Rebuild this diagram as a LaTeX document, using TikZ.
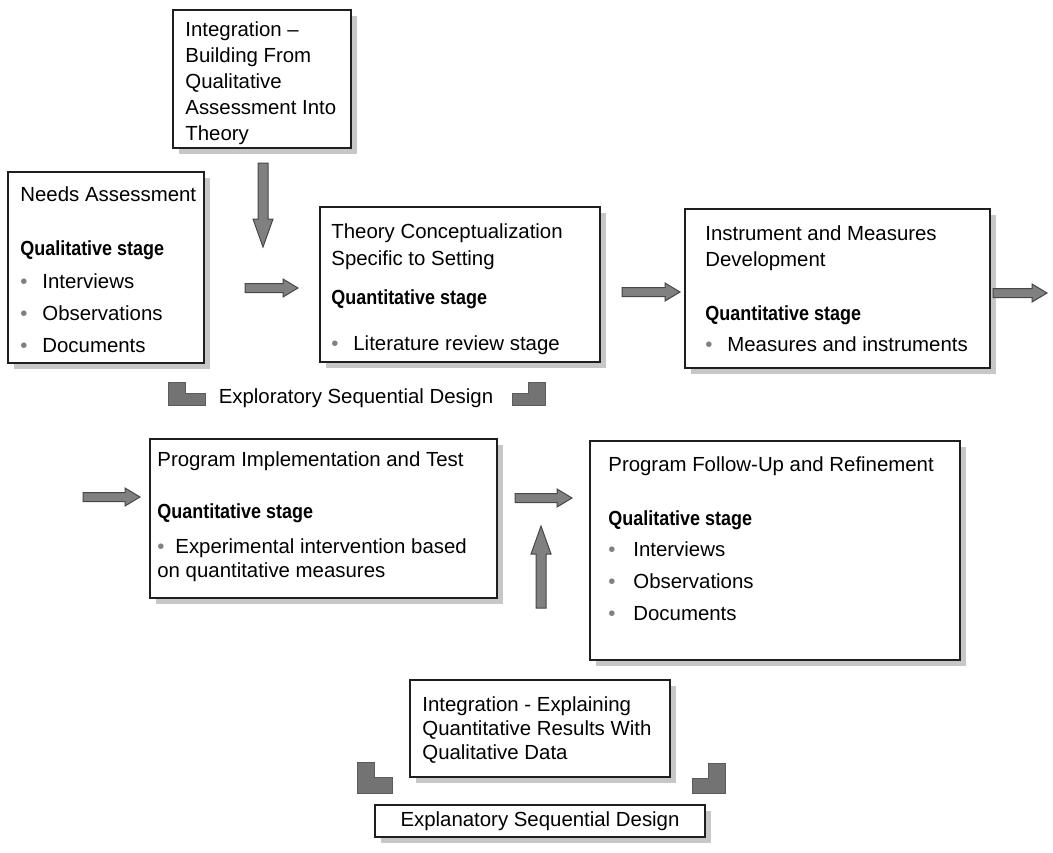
\documentclass[tikz,border=0pt]{standalone}
\usepackage{fontspec}
\setmainfont{Liberation Sans}
\newfontfamily\stagefont{Liberation Sans}[FakeStretch=0.88]
\usetikzlibrary{fit, shadows}
\definecolor{cframe}{gray}{0.12}
\definecolor{cshadow}{gray}{0.78}
\definecolor{carrow}{gray}{0.5}
\definecolor{carrowline}{gray}{0.28}
\definecolor{ccorner}{gray}{0.45}
\definecolor{cbullet}{gray}{0.5}
\newcommand\stagebullet[1][11pt]{\makebox[#1][l]{\textcolor{cbullet}{\textbullet}}}
\newcommand\stagehead[1]{{\stagefont\bfseries #1}}
\tikzset{
  every picture/.style={font=\fontsize{10.2}{13}\selectfont},
  stagebox/.style={draw=cframe, fill=white, line width=0.7pt, inner sep=0pt,
    drop shadow={shadow xshift=3pt, shadow yshift=-3pt, fill=cshadow, opacity=1}},
  stagetext/.style={anchor=north west, align=left, inner sep=0pt},
  arrowfill/.style={fill=carrow, draw=carrowline, line width=0.5pt},
  pics/rarrow/.style={code={
    \filldraw[arrowfill] (0,-4.5) -- (#1-15,-4.5) -- (#1-15,-9) -- (#1,0)
      -- (#1-15,9) -- (#1-15,4.5) -- (0,4.5) -- cycle;}},
  pics/varrow/.style 2 args={code={
    \filldraw[arrowfill] (-5,0) -- (-5,#2) -- (-10,#2) -- (0,#1)
      -- (10,#2) -- (5,#2) -- (5,0) -- cycle;}},
  pics/bracket/.style 2 args={code={
    \filldraw[fill=ccorner, draw=ccorner!80!black, line width=0.4pt]
      (0,0) -- (0,-#2) -- (17,-#2) -- (17,-#2/2) -- (#1,-#2/2) -- (#1,0) -- cycle;}},
}
\begin{document}
\begin{tikzpicture}[x=0.5pt, y=-0.5pt]
  \useasboundingbox (0,0) rectangle (1053,852);
  % exploratory part
  \node[stagebox, fit={(173,10) (351,148)}] (buildbox) {};
  \node[stagetext] (buildtext) at (185,21) {Integration –\\Building From\\Qualitative\\Assessment Into\\Theory};
  \node[stagebox, fit={(8,172) (204,363)}] (needsbox) {};
  \node[stagetext] (needstext) at (20,186) {Needs Assessment\\[14pt]
    \stagehead{Qualitative stage}\\[3.5pt]
    \stagebullet Interviews\\[3pt]
    \stagebullet Observations\\[3pt]
    \stagebullet Documents};
  \node[stagebox, fit={(320,207) (600,362)}] (theorybox) {};
  \node[stagetext] (theorytext) at (331,223) {Theory Conceptualization\\[0.5pt]
    Specific to Setting\\[6.5pt]
    \stagehead{Quantitative stage}\\[10pt]
    \stagebullet Literature review stage};
  \node[stagebox, fit={(685,209) (990,368)}] (measuresbox) {};
  \node[stagetext] (measurestext) at (705,225) {Instrument and Measures\\
    Development\\[14pt]
    \stagehead{Quantitative stage}\\[2.5pt]
    \stagebullet Measures and instruments};
  \pic at (263,163) {varrow={84}{56}};
  \pic at (245,288) {rarrow=53};
  \pic at (622,292) {rarrow=58};
  \pic at (993,293) {rarrow=54};
  \pic at (168,405) {bracket={37}{23}};
  \pic[xscale=-1] at (545,405) {bracket={33}{23}};
  \node[anchor=base] (exploratory) at (356,403) {Exploratory Sequential Design};
  % explanatory part
  \node[stagebox, fit={(150,439) (497,598)}] (programbox) {};
  \node[stagetext] (programtext) at (157,451) {Program Implementation and Test\\[13pt]
    \stagehead{Quantitative stage}\\[4.5pt]
    \stagebullet[9pt]Experimental intervention based\\[-1pt]
    on quantitative measures};
  \node[stagebox, fit={(590,441) (960,660)}] (followbox) {};
  \node[stagetext] (followtext) at (608,456) {Program Follow-Up and Refinement\\[14pt]
    \stagehead{Qualitative stage}\\[2.5pt]
    \stagebullet[12.5pt]Interviews\\[3pt]
    \stagebullet[12.5pt]Observations\\[3pt]
    \stagebullet[12.5pt]Documents};
  \pic at (83,497) {rarrow=57};
  \pic at (515,498) {rarrow=57};
  \pic at (541,608) {varrow={-82}{-54}};
  \node[stagebox, fit={(410,680) (670,777)}] (explainbox) {};
  \node[stagetext] (explaintext) at (422,696) {Integration - Explaining\\[-1pt]
    Quantitative Results With\\[-1pt]
    Qualitative Data};
  \pic at (357,793) {bracket={35}{31}};
  \pic[xscale=-1] at (725,793) {bracket={33}{30}};
  \node[stagebox, minimum width=165pt, minimum height=16pt] (explanatory) at (540,821) {Explanatory Sequential Design};
\end{tikzpicture}
\end{document}
